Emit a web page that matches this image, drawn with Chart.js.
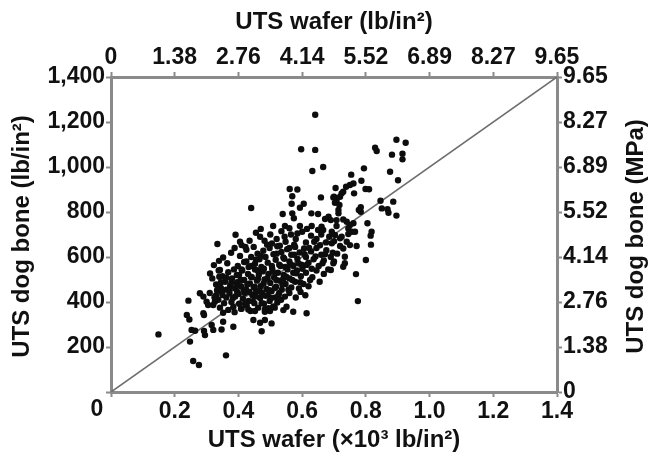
<!DOCTYPE html>
<html>
<head>
<meta charset="utf-8">
<script src="https://cdn.jsdelivr.net/npm/chart.js@4/dist/chart.umd.min.js"></script>
<style>
  html, body { margin: 0; padding: 0; background: #fff; }
  #wrap { width: 654px; height: 458px; }
</style>
</head>
<body>
<div id="wrap"><canvas id="c" width="654" height="458"></canvas></div>
<script>
// UTS of wafer specimens (x10^3 lb/in^2) vs. UTS of dog-bone specimens (lb/in^2)
const waferUTS = [
  0.641,0.597,0.641,0.829,0.834,0.896,0.925,0.882,0.915,0.915,
  0.632,0.666,0.794,0.876,0.754,0.561,0.585,0.569,0.659,0.705,
  0.700,0.901,0.786,0.761,0.750,0.799,0.810,0.738,0.729,0.763,
  0.724,0.708,0.846,0.719,0.698,
  0.567,0.605,0.593,0.440,0.539,0.569,0.574,0.629,0.650,0.683,
  0.690,0.703,0.717,0.886,0.784,0.784,0.778,0.850,0.868,0.871,
  0.896,0.714,0.672,0.740,0.761,0.805,0.714,0.729,0.708,
  0.509,0.546,0.593,0.630,0.661,0.708,0.455,0.391,0.750,0.745,
  0.756,0.818,0.815,0.666,0.693,0.703,0.719,0.724,0.693,0.745,
  0.766,0.771,0.750,0.719,0.816,0.334,0.410,0.405,0.422,0.435,
  0.468,0.482,0.500,0.520,0.535,0.548,0.565,0.580,0.600,0.612,
  0.628,0.645,0.660,0.675,0.490,0.530,0.575,0.470,0.560,0.615,
  0.650,0.685,0.700,0.740,
  0.352,0.365,0.388,0.398,0.405,0.418,0.425,0.432,0.440,0.448,
  0.452,0.460,0.466,0.472,0.478,0.485,0.492,0.498,0.505,0.510,
  0.517,0.522,0.528,0.535,0.541,0.547,0.553,0.560,0.566,0.572,
  0.578,0.585,0.592,0.598,0.606,0.612,0.620,0.628,0.636,0.645,
  0.652,0.660,0.668,0.676,0.710,0.700,0.690,
  0.729,0.734,0.696,0.377,0.339,0.323,0.800,0.734,0.729,0.698,
  0.690,0.342,
  0.318,0.330,0.338,0.345,0.350,0.358,0.362,0.368,0.374,0.380,
  0.386,0.390,0.396,0.402,0.408,0.412,0.418,0.424,0.430,0.436,
  0.442,0.448,0.452,0.458,0.464,0.470,0.476,0.482,0.488,0.494,
  0.500,0.506,0.512,0.518,0.524,0.530,0.536,0.542,0.548,0.554,
  0.560,0.566,0.572,0.578,0.584,0.590,0.596,0.604,0.612,0.620,
  0.632,0.645,0.655,0.668,0.682,0.625,0.769,0.311,0.540,0.460,
  0.340,0.337,
  0.279,0.290,0.300,0.305,0.321,0.326,0.337,0.243,0.310,0.330,
  0.342,0.348,0.355,0.362,0.368,0.372,0.378,0.384,0.390,0.396,
  0.402,0.408,0.414,0.420,0.426,0.432,0.438,0.444,0.450,0.456,
  0.462,0.468,0.474,0.480,0.486,0.492,0.498,0.504,0.510,0.516,
  0.522,0.528,0.534,0.546,0.551,0.572,0.541,0.560,0.580,0.595,
  0.610,0.452,0.431,0.410,0.483,0.499,0.514,0.775,0.352,0.388,
  0.350,
  0.149,0.238,0.246,0.253,0.264,0.290,0.292,0.292,0.295,0.316,
  0.321,0.347,0.352,0.384,0.447,0.468,0.483,0.504,0.473,0.614,
  0.494,0.483,0.509,
  0.248,0.258,0.276,0.361,
  0.372,0.383,0.394,0.401,0.407,0.416,0.421,0.428,0.434,0.439,
  0.445,0.451,0.455,0.461,0.467,0.473,0.479,0.485,0.491,0.497,
  0.503,0.508,0.514,0.519,0.526,0.532,0.538,0.544,0.550,0.557,
  0.563,0.569,0.575,0.581,0.588,0.594,0.601,0.607,0.614,0.622,
  0.630,0.638,0.642,0.656,0.664,0.672,0.480,0.470,0.455,0.440,
  0.425,0.410,0.395,0.378,0.362,0.345,0.333,0.325,0.520,0.505,
  0.545,0.585,0.560
];
const dogBoneUTS = [
  1232,1079,1076,1086,1071,1121,1108,1055,1059,1034,
  982,1000,994,979,966,902,900,870,865,907,
  868,941,939,927,920,902,901,912,890,883,
  883,850,850,868,865,
  837,837,819,818,791,794,772,794,791,779,
  764,841,831,846,821,801,809,816,812,797,
  784,794,769,757,750,750,809,767,764,
  738,738,738,738,735,738,708,699,742,727,
  712,712,695,720,712,698,683,690,661,702,
  712,649,653,649,655,658,653,668,645,672,
  690,672,700,680,715,668,700,680,712,665,
  695,680,700,665,655,650,655,725,728,725,
  720,690,670,668,
  598,572,640,560,605,578,632,556,600,645,
  570,615,590,556,628,600,575,640,560,612,
  588,648,566,622,598,556,635,580,610,560,
  645,592,620,566,638,600,575,625,590,640,
  560,610,585,630,615,580,600,
  638,601,619,619,583,564,587,572,557,572,
  542,542,
  505,478,540,462,515,490,455,532,472,505,
  545,460,488,520,470,540,498,456,525,482,
  510,465,545,495,520,470,536,500,458,525,
  485,548,510,468,530,495,455,520,480,545,
  505,465,530,490,540,460,515,480,530,470,
  510,540,490,525,545,498,524,527,500,540,
  512,461,
  439,424,401,387,387,401,410,406,440,430,
  375,445,395,420,365,438,400,378,425,446,
  392,370,415,440,385,405,360,430,395,448,
  375,418,440,392,367,430,405,448,379,420,
  398,440,410,424,379,357,364,440,420,445,
  430,360,367,370,367,360,375,404,352,355,
  431,
  256,342,322,276,272,350,342,271,253,298,
  276,278,312,290,320,308,320,305,270,350,
  372,357,379,
  224,138,120,163,
  452,418,472,436,498,455,392,478,445,512,
  404,468,425,502,448,395,482,428,505,452,
  418,535,462,498,432,560,478,592,512,455,
  568,498,610,528,572,488,548,612,565,640,
  548,668,602,652,572,612,548,605,588,560,
  580,545,520,488,508,488,452,420,615,660,
  690,705,640
];

// Axis tick labels (imperial on bottom/left, converted on top/right)
const bottomTicks = ['', '0.2', '0.4', '0.6', '0.8', '1.0', '1.2', '1.4'];
const topTicks    = ['0', '1.38', '2.76', '4.14', '5.52', '6.89', '8.27', '9.65'];
const leftTicks   = ['', '200', '400', '600', '800', '1,000', '1,200', '1,400'];
const rightTicks  = ['0', '1.38', '2.76', '4.14', '5.52', '6.89', '8.27', '9.65'];
const xTickValues = [0, 0.2, 0.4, 0.6, 0.8, 1.0, 1.2, 1.4];
const yTickValues = [0, 200, 400, 600, 800, 1000, 1200, 1400];
// 1:1 reference line
const refLineX = [0, 1.4];
const refLineY = [0, 1400];

const FONT = "'Liberation Sans', Arial, sans-serif";
const AXIS_GRAY = '#8a8a8a';
const tickFont = { family: FONT, size: 23, weight: 'bold' };

const points = waferUTS.map((x, i) => ({ x: x, y: dogBoneUTS[i] }));
const refLine = refLineX.map((x, i) => ({ x: x, y: refLineY[i] }));

function fixedTicks(values) {
  return function (scale) {
    scale.ticks = values.map(v => ({ value: v }));
  };
}

function scaleOpts(position, values, labels, extra) {
  return Object.assign({
    type: 'linear',
    position: position,
    display: true,
    min: values[0],
    max: values[values.length - 1],
    afterBuildTicks: fixedTicks(values),
    grid: {
      display: true,
      drawOnChartArea: false,
      drawTicks: true,
      tickLength: 5,
      tickWidth: 2,
      color: AXIS_GRAY
    },
    border: { display: true, color: AXIS_GRAY, width: 3 },
    ticks: {
      autoSkip: false,
      maxRotation: 0,
      color: '#111',
      font: tickFont,
      padding: 1,
      callback: (v, i) => labels[i]
    }
  }, extra || {});
}

// Axis titles and the shared corner zero
const titlePlugin = {
  id: 'axisTitles',
  afterDraw(chart) {
    const ctx = chart.ctx;
    const a = chart.chartArea;
    const cx = (a.left + a.right) / 2;
    const cy = (a.top + a.bottom) / 2;
    ctx.save();
    ctx.fillStyle = '#111';
    ctx.font = "bold 24px " + FONT;
    ctx.textAlign = 'center';
    ctx.textBaseline = 'middle';
    ctx.fillText('UTS wafer (lb/in\u00B2)', cx, 22);
    ctx.fillText('UTS wafer (\u00D710\u00B3 lb/in\u00B2)', cx, 440);

    ctx.save();
    ctx.translate(22, cy + 2);
    ctx.rotate(-Math.PI / 2);
    ctx.fillText('UTS dog bone (lb/in\u00B2)', 0, 0);
    ctx.restore();

    ctx.save();
    ctx.translate(636, cy + 2);
    ctx.rotate(-Math.PI / 2);
    ctx.fillText('UTS dog bone (MPa)', 0, 0);
    ctx.restore();

    ctx.font = "bold 23px " + FONT;
    ctx.fillText('0', 97, 410);
    ctx.restore();
  }
};

new Chart(document.getElementById('c'), {
  type: 'scatter',
  data: {
    datasets: [
      {
        label: '1:1',
        type: 'line',
        data: refLine,
        borderColor: '#6e6e6e',
        borderWidth: 1.6,
        pointRadius: 0,
        fill: false,
        xAxisID: 'x',
        yAxisID: 'y',
        order: 2
      },
      {
        label: 'UTS',
        data: points,
        backgroundColor: '#0d0d0d',
        borderColor: '#0d0d0d',
        borderWidth: 0,
        pointRadius: 3.2,
        xAxisID: 'x',
        yAxisID: 'y',
        order: 1
      }
    ]
  },
  options: {
    responsive: false,
    animation: false,
    devicePixelRatio: 1,
    layout: { padding: 0 },
    plugins: {
      legend: { display: false },
      tooltip: { enabled: false }
    },
    scales: {
      x: scaleOpts('bottom', xTickValues, bottomTicks, {
        afterFit(s) { s.height = 66; }
      }),
      x2: scaleOpts('top', xTickValues, topTicks, {
        afterFit(s) { s.height = 77; }
      }),
      y: scaleOpts('left', yTickValues, leftTicks, {
        afterFit(s) { s.width = 111; }
      }),
      y2: scaleOpts('right', yTickValues, rightTicks, {
        afterFit(s) { s.width = 97; }
      })
    }
  },
  plugins: [titlePlugin]
});
</script>
</body>
</html>
